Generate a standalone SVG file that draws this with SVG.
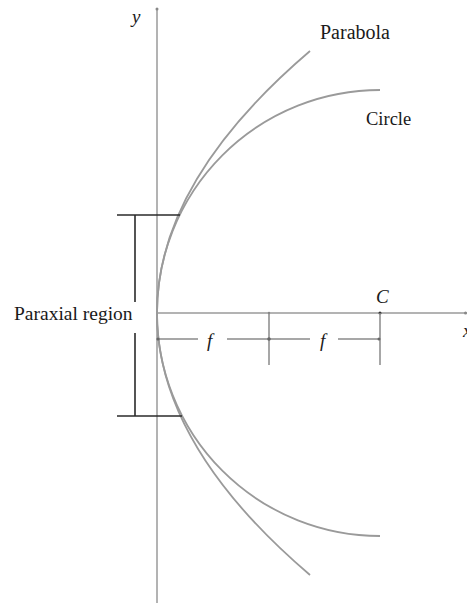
<svg xmlns="http://www.w3.org/2000/svg" width="467" height="603" viewBox="0 0 467 603">
<style>
.axis{stroke:#9a9a9a;stroke-width:1.5;fill:none}
.curve{stroke:#9a9a9a;stroke-width:1.8;fill:none}
.dim{stroke:#8a8a8a;stroke-width:1.5;fill:none}
.br{stroke:#2a2a2a;stroke-width:1.6;fill:none}
.t{font-family:"Liberation Serif","Times New Roman",serif;fill:#1a1a1a}
.i{font-style:italic}
</style>
<rect width="467" height="603" fill="#fff"/>
<g id="axes">
<line class="axis" x1="157" y1="8" x2="157" y2="603"/>
<line class="axis" x1="157" y1="313" x2="467" y2="313"/>
<circle cx="157" cy="9" r="1.5" fill="#888"/>
<circle cx="465.5" cy="313" r="1.5" fill="#888"/>
<circle cx="380" cy="313" r="1.5" fill="#333"/>
<circle cx="269" cy="313" r="1.2" fill="#888"/>
</g>
<g id="circle">
<path class="curve" d="M157,313 A223,223 0 0 1 380,90"/>
<path class="curve" d="M157,313 A223,223 0 0 0 380,536"/>
</g>
<g id="parabola">
<path class="curve" d="M157,313 Q157,181.5 310,51"/>
<path class="curve" d="M157,313 Q157,444.5 310,575"/>
</g>
<g id="paraxial">
<line class="br" x1="117" y1="215" x2="180" y2="215"/>
<line class="br" x1="117" y1="416" x2="182" y2="416"/>
<line class="br" x1="135" y1="215" x2="135" y2="302"/>
<line class="br" x1="135" y1="333" x2="135" y2="416"/>
<text class="t" x="14" y="320" font-size="19.5">Paraxial region</text>
</g>
<g id="connectors">
<line class="dim" x1="157" y1="339" x2="198" y2="339"/>
<line class="dim" x1="227" y1="339" x2="310" y2="339"/>
<line class="dim" x1="338" y1="339" x2="380" y2="339"/>
<line class="dim" x1="269" y1="313" x2="269" y2="365"/>
<line class="dim" x1="380" y1="313" x2="380" y2="365"/>
<circle cx="158" cy="339" r="1.6" fill="#666"/>
<circle cx="269" cy="339" r="1.8" fill="#666"/>
<circle cx="379" cy="339" r="1.5" fill="#666"/>
</g>
<g id="labels">
<text class="t i" x="132" y="23" font-size="19">y</text>
<text class="t" x="320" y="39" font-size="20">Parabola</text>
<text class="t" x="366" y="125" font-size="18.5">Circle</text>
<text class="t i" x="376" y="303" font-size="19">C</text>
<text class="t i" x="207" y="347" font-size="19">f</text>
<text class="t i" x="320" y="347" font-size="19">f</text>
<text class="t i" x="463" y="337" font-size="19">x</text>
</g>
</svg>
